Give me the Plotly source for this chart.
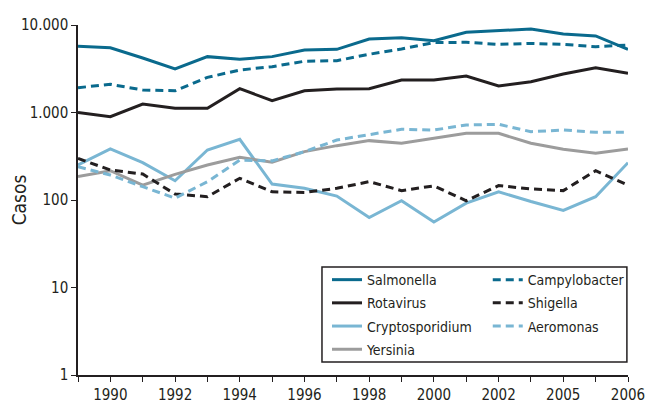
import plotly.graph_objects as go

x_idx = list(range(18))
tick_labels = ["", "1990", "", "1992", "", "1994", "", "1996", "", "1998",
               "", "2000", "", "2002", "", "2005", "", "2006"]

salmonella = [5700, 5500, 4200, 3140, 4350, 4060, 4350, 5180, 5270, 6920,
              7160, 6620, 8250, 8540, 9000, 7890, 7490, 5270]
campylobacter = [1920, 2100, 1810, 1770, 2520, 3060, 3340, 3850, 3910, 4630,
                 5320, 6290, 6340, 6010, 6160, 6010, 5650, 5900]
rotavirus = [1000, 895, 1250, 1120, 1120, 1870, 1365, 1775, 1857, 1870,
             2350, 2350, 2610, 2010, 2250, 2750, 3250, 2800]
shigella = [299, 220, 198, 117, 109, 177, 124, 122, 136, 162,
            128, 145, 98, 146, 134, 128, 216, 148]
cryptosporidium = [251, 383, 267, 166, 373, 493, 152, 136, 111, 63,
                   98, 56, 92, 124, 96, 76, 109, 267]
aeromonas = [240, 193, 142, 105, 162, 286, 280, 357, 485, 553,
             643, 630, 720, 733, 604, 631, 594, 594]
yersinia = [185, 216, 148, 196, 251, 307, 270, 357, 418, 477,
            445, 507, 578, 578, 445, 380, 342, 383]

y_ticks = [1, 10, 100, 1000, 10000]
y_tick_text = ["1", "10", "100", "1.000", "10.000"]

TEAL = "#0a6a8d"
BLACK = "#231f20"
LIGHT = "#79b6d3"
GRAY = "#9c9c9c"
DASH = "8px,5px"
FONT = "DejaVu Sans Condensed, Liberation Sans"

series = [
    ("Salmonella", salmonella, TEAL, "solid", "legend"),
    ("Rotavirus", rotavirus, BLACK, "solid", "legend"),
    ("Cryptosporidium", cryptosporidium, LIGHT, "solid", "legend"),
    ("Yersinia", yersinia, GRAY, "solid", "legend"),
    ("Campylobacter", campylobacter, TEAL, DASH, "legend2"),
    ("Shigella", shigella, BLACK, DASH, "legend2"),
    ("Aeromonas", aeromonas, LIGHT, DASH, "legend2"),
]

fig = go.Figure()
for name, vals, col, dash, leg in series:
    fig.add_trace(go.Scatter(x=x_idx, y=vals, name=name, mode="lines",
                             line=dict(color=col, width=3, dash=dash),
                             legend=leg, legendgroup=name))

legend_common = dict(font=dict(family=FONT, size=14, color=BLACK),
                     bgcolor="rgba(0,0,0,0)", borderwidth=0,
                     xanchor="left", yanchor="top", itemwidth=30,
                     tracegroupgap=2)

fig.update_layout(
    width=657, height=403,
    margin=dict(l=70, r=37, t=17, b=36),
    paper_bgcolor="white", plot_bgcolor="white",
    font=dict(family=FONT, size=16, color=BLACK),
    showlegend=True,
    legend=dict(x=0.4527, y=0.317, **legend_common),
    legend2=dict(x=0.745, y=0.317, **legend_common),
    xaxis=dict(range=[0, 17], tickmode="array", tickvals=x_idx,
               ticktext=tick_labels, ticks="outside", ticklen=5,
               tickcolor=BLACK, tickwidth=1.2, showline=True,
               linecolor=BLACK, linewidth=1.5, showgrid=False,
               zeroline=False, automargin=False, tickfont=dict(size=15)),
    yaxis=dict(type="log", range=[0, 4], tickmode="array",
               tickvals=y_ticks, ticktext=y_tick_text, ticks="outside",
               ticklen=5, tickcolor=BLACK, tickwidth=1.2, showline=True,
               linecolor=BLACK, linewidth=1.5, showgrid=False,
               zeroline=False, automargin=False, tickfont=dict(size=15),
               title=dict(text="Casos", standoff=8)),
    shapes=[dict(type="rect", xref="paper", yref="paper",
                 x0=0.4436, x1=0.998, y0=0.0371, y1=0.3086,
                 line=dict(color=BLACK, width=1.5),
                 fillcolor="white", layer="below")],
)

fig.write_html("out.html")
